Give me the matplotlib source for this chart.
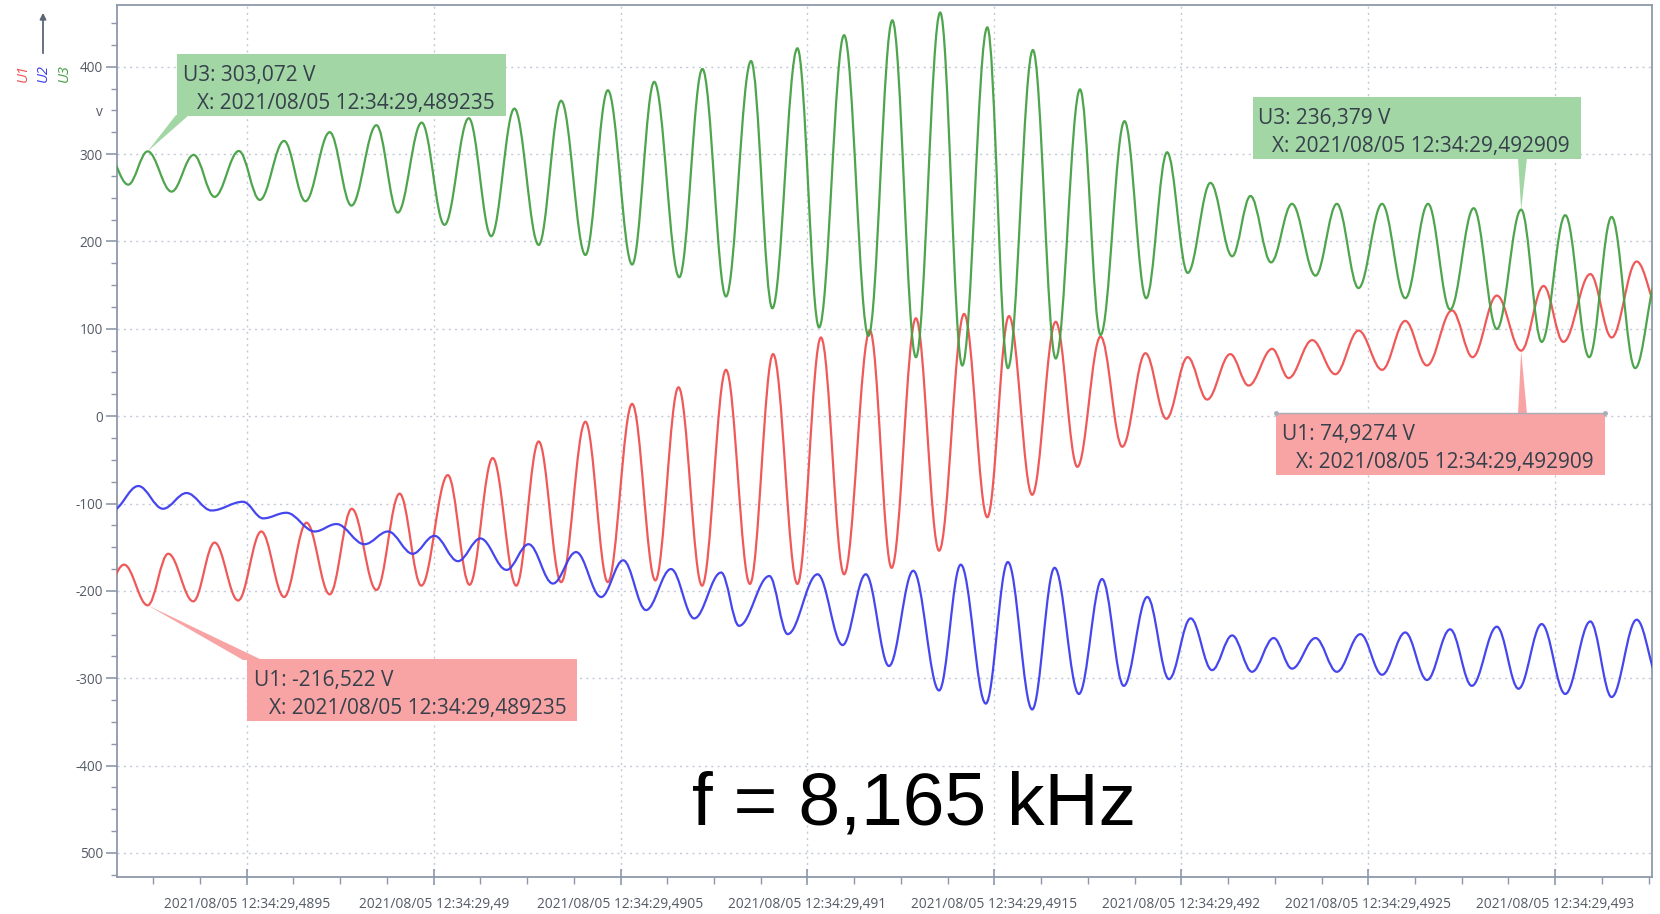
import numpy as np
import matplotlib
matplotlib.use("Agg")
import matplotlib.pyplot as plt
from matplotlib.path import Path
from matplotlib.patches import PathPatch, Polygon, Rectangle, FancyArrowPatch
from matplotlib.ticker import FixedLocator, FuncFormatter, MultipleLocator
from matplotlib.transforms import Affine2D
from matplotlib.lines import Line2D

# ---------------- data (extrema) ----------------
# time = seconds within 2021/08/05 12:34:29, value = volts
u3_time = [0.489122, 0.489183, 0.489235, 0.489299, 0.489358, 0.489414, 0.489479, 0.489535,
           0.489600, 0.489657, 0.489722, 0.489780, 0.489847, 0.489904, 0.489968, 0.490029,
           0.490094, 0.490154, 0.490216, 0.490281, 0.490341, 0.490406, 0.490466, 0.490531,
           0.490590, 0.490657, 0.490719, 0.490782, 0.490849, 0.490906, 0.490973, 0.491031,
           0.491098, 0.491163, 0.491227, 0.491290, 0.491355, 0.491414, 0.491481, 0.491536,
           0.491603, 0.491664, 0.491729, 0.491784, 0.491848, 0.491906, 0.491962, 0.492017,
           0.492078, 0.492136, 0.492185, 0.492240, 0.492296, 0.492359, 0.492416, 0.492474,
           0.492537, 0.492599, 0.492660, 0.492719, 0.492782, 0.492844, 0.492909, 0.492964,
           0.493027, 0.493091, 0.493151, 0.493214, 0.493275]
u3_volt = [306, 265, 303.072, 257, 299, 251, 303.5, 247.5,
           315, 246, 325, 241, 333, 233, 336, 219,
           341, 206, 352, 196, 361, 184.5, 373, 173.6,
           382.6, 159, 397.4, 137, 406.4, 123.5, 421, 101.6,
           436, 92, 453, 67.5, 462, 58, 445, 55,
           419, 66, 374, 93, 337.6, 135, 302, 164,
           267, 183, 252, 176, 243, 160.8, 243, 146.6,
           243, 135, 243, 122, 238, 99.7, 236.379, 85,
           230, 67.5, 228, 55, 160]

u1_time = [0.489110, 0.489172, 0.489235, 0.489290, 0.489357, 0.489414, 0.489477, 0.489539,
           0.489600, 0.489660, 0.489722, 0.489781, 0.489847, 0.489909, 0.489967, 0.490038,
           0.490096, 0.490158, 0.490221, 0.490281, 0.490341, 0.490406, 0.490466, 0.490531,
           0.490593, 0.490655, 0.490718, 0.490782, 0.490846, 0.490908, 0.490973, 0.491036,
           0.491098, 0.491167, 0.491225, 0.491290, 0.491352, 0.491419, 0.491481, 0.491539,
           0.491601, 0.491664, 0.491722, 0.491784, 0.491842, 0.491904, 0.491960, 0.492017,
           0.492069, 0.492131, 0.492180, 0.492243, 0.492287, 0.492350, 0.492412, 0.492474,
           0.492537, 0.492599, 0.492657, 0.492724, 0.492779, 0.492844, 0.492909, 0.492969,
           0.493022, 0.493094, 0.493151, 0.493218, 0.493280]
u1_volt = [-212, -170, -216.522, -157.5, -212, -144.7, -211, -132,
           -207, -122, -204, -106, -199, -88.7, -194, -67.5,
           -193, -48, -194, -29, -190, -6.4, -190, 14,
           -188, 33, -194, 53, -192, 71, -192, 90,
           -181, 98, -173.6, 112, -154, 117, -115.7, 114.5,
           -90, 108, -58, 91, -35, 72, -3, 67.5,
           19, 71, 35, 77, 43.6, 87, 48, 98,
           53, 109, 58, 121, 67.5, 138, 74.9274, 149,
           85, 162.6, 90, 177, 120]

u2_time = [0.489140, 0.489210, 0.489276, 0.489339, 0.489406, 0.489490, 0.489544, 0.489606,
           0.489682, 0.489740, 0.489815, 0.489878, 0.489944, 0.490002, 0.490065, 0.490125,
           0.490195, 0.490254, 0.490319, 0.490381, 0.490448, 0.490507, 0.490568, 0.490635,
           0.490697, 0.490769, 0.490817, 0.490898, 0.490947, 0.491027, 0.491094, 0.491156,
           0.491218, 0.491283, 0.491352, 0.491410, 0.491477, 0.491536, 0.491601, 0.491661,
           0.491726, 0.491788, 0.491846, 0.491909, 0.491967, 0.492025, 0.492082, 0.492136,
           0.492189, 0.492247, 0.492296, 0.492359, 0.492416, 0.492479, 0.492537, 0.492599,
           0.492657, 0.492719, 0.492777, 0.492844, 0.492902, 0.492964, 0.493027, 0.493094,
           0.493151, 0.493218, 0.493280]
u2_volt = [-108, -80, -106, -88, -108, -98, -117, -110.6,
           -132, -123.5, -146.6, -132, -157.5, -137, -166, -140,
           -176, -146.6, -191.6, -155.6, -207, -165, -222, -175,
           -231.5, -179, -240, -183, -249.5, -181, -262, -181,
           -286, -177, -314, -170, -329, -167, -335.7, -173.6,
           -318, -186.5, -308.7, -207, -301, -231.5, -290.7, -251,
           -292.6, -254, -289, -254, -292.6, -249.5, -296, -247.6,
           -302, -244, -308.7, -241, -312, -238, -318, -235,
           -321.5, -233, -303]

series_names = ["U1", "U2", "U3"]
series_colors = ["#ef5050", "#3c3cee", "#44a044"]

x_ticks = [0.4895, 0.4900, 0.4905, 0.4910, 0.4915, 0.4920, 0.4925, 0.4930]
date_prefix = "2021/08/05 12:34:29,"
y_ticks = [400, 300, 200, 100, 0, -100, -200, -300, -400, -500]
y_tick_labels = ["400", "300", "200", "100", "0", "-100", "-200", "-300", "-400", "500"]
unit_label = "v"

cursor_a = 0.489235
cursor_b = 0.492909
u3_at_a, u3_at_b = 303.072, 236.379
u1_at_a, u1_at_b = -216.522, 74.9274
cursor_a_text = "2021/08/05 12:34:29,489235"
cursor_b_text = "2021/08/05 12:34:29,492909"
freq_text = "f = 8,165 kHz"

# ---------------- figure ----------------
W, H = 1660, 914
fig = plt.figure(figsize=(W / 100, H / 100), dpi=100)
fig.patch.set_facecolor("white")
ax = fig.add_axes([117 / W, 1 - 877 / H, (1652 - 117) / W, (877 - 5) / H])
ax.set_xlim(0.489153, 0.493259)
ax.set_ylim(-527.5, 470.6)

K = 0.3634


def wave_path(ts, vs):
    verts = [(ts[0], vs[0])]
    codes = [Path.MOVETO]
    for i in range(len(ts) - 1):
        t0, v0, t1, v1 = ts[i], vs[i], ts[i + 1], vs[i + 1]
        dt = t1 - t0
        verts += [(t0 + K * dt, v0), (t1 - K * dt, v1), (t1, v1)]
        codes += [Path.CURVE4, Path.CURVE4, Path.CURVE4]
    return Path(verts, codes)


for ts, vs, col in [(u1_time, u1_volt, series_colors[0]),
                    (u2_time, u2_volt, series_colors[1]),
                    (u3_time, u3_volt, series_colors[2])]:
    ax.add_patch(PathPatch(wave_path(ts, vs), facecolor="none", edgecolor=col,
                           lw=1.6, zorder=3, alpha=0.95))

# axes styling
spine_col = "#8e98aa"
for s in ax.spines.values():
    s.set_color(spine_col)
    s.set_linewidth(1.3)

ax.xaxis.set_major_locator(FixedLocator(x_ticks))
ax.xaxis.set_minor_locator(MultipleLocator(0.000125))


def fmt_x(x, pos):
    s = f"{x:.4f}".rstrip("0")
    return date_prefix + s.split(".")[1]


ax.xaxis.set_major_formatter(FuncFormatter(fmt_x))
ax.yaxis.set_major_locator(FixedLocator(y_ticks))
ax.yaxis.set_major_formatter(FuncFormatter(
    lambda v, p: y_tick_labels[y_ticks.index(int(round(v)))] if int(round(v)) in y_ticks else ""))
ax.yaxis.set_minor_locator(MultipleLocator(25))
ax.yaxis.set_minor_formatter(FuncFormatter(lambda v, p: unit_label if abs(v - 350) < 1e-6 else ""))

lab_col = "#545a66"
ax.tick_params(axis="x", which="major", direction="inout", length=12, width=1.2,
               color=spine_col, labelsize=9.9, labelcolor=lab_col, pad=8.5)
ax.tick_params(axis="x", which="minor", direction="out", length=5, width=1.0, color=spine_col)
ax.tick_params(axis="y", which="major", direction="out", length=8, width=1.2,
               color=spine_col, labelsize=9.8, labelcolor=lab_col, pad=2)
ax.tick_params(axis="y", which="minor", direction="out", length=4, width=1.0,
               color=spine_col, labelsize=9.8, labelcolor=lab_col, pad=6)
for lbl in ax.get_xticklabels() + ax.get_yticklabels() + ax.get_yticklabels(minor=True):
    lbl.set_fontfamily("Open Sans")

ax.grid(True, which="major", color="#c3cad8", linestyle=(0, (1.5, 3)), linewidth=1.0)
ax.set_axisbelow(True)

# ---------------- callouts (pixel coordinates, origin top-left) ----------------
T = Affine2D().scale(1, -1).translate(0, H)
fig.canvas.draw()
inv = T.inverted()


def tip(t, v):
    d = ax.transData.transform((t, v))
    return tuple(inv.transform(d))


txt_col = "#36404b"
green_box = "#a3d6a5"
red_box = "#f8a4a4"
box_fs = 15


def put_text(x, y, s):
    fig.text(0, 0, s, transform=Affine2D().translate(x, y) + T, fontsize=box_fs,
             color=txt_col, family="Open Sans", va="baseline", ha="left", zorder=6)


def box(x0, y0, x1, y1, color, base, tip_pt):
    fig.add_artist(Polygon([base[0], base[1], tip_pt], closed=True, facecolor=color,
                           edgecolor="none", transform=T, zorder=5))
    fig.add_artist(Rectangle((x0, y0), x1 - x0, y1 - y0, facecolor=color,
                             edgecolor="none", transform=T, zorder=5))


# green callout A
box(177, 54, 506, 116, green_box, [(176, 115), (189, 115)], tip(cursor_a, u3_at_a))
put_text(183, 81, f"U3: {u3_at_a:.3f} V".replace(".", ","))
put_text(197, 109, "X: " + cursor_a_text)

# green callout B
box(1253, 97, 1581, 159, green_box, [(1518, 158), (1527, 158)], tip(cursor_b, u3_at_b))
put_text(1258, 124, f"U3: {u3_at_b:.3f} V".replace(".", ","))
put_text(1272, 152, "X: " + cursor_b_text)

# red callout A
box(247, 659, 577, 721, red_box, [(243, 660), (262, 660)], tip(cursor_a, u1_at_a))
put_text(254, 686, f"U1: {u1_at_a:.3f} V".replace(".", ","))
put_text(269, 714, "X: " + cursor_a_text)

# red callout B
box(1276, 413, 1605, 475, red_box, [(1518, 414), (1527, 414)], tip(cursor_b, u1_at_b))
fig.add_artist(Line2D([1276, 1605], [413, 413], color="#a8aeb8", lw=1.0,
                      marker="o", markersize=2.5, markevery=[0, 1], transform=T, zorder=6))
put_text(1282, 440, f"U1: {u1_at_b:.4f} V".replace(".", ","))
put_text(1296, 468, "X: " + cursor_b_text)

# series labels at top-left with arrow
for name, col, xp in zip(series_names, series_colors, [23, 43, 64]):
    fig.text(0, 0, name, transform=Affine2D().translate(xp, 73) + T, rotation=90,
             ha="center", va="center", fontsize=10.5, color=col, style="italic",
             family="Open Sans")
fig.add_artist(FancyArrowPatch((43, 56), (43, 10), arrowstyle="-|>", mutation_scale=9,
                               color="#5d6575", lw=1.3, transform=T))

# frequency annotation
fig.text(914 / W, 1 - 824 / H, freq_text, ha="center", va="baseline", fontsize=54,
         family="Liberation Sans", color="black")

fig.savefig("out.png", dpi=100)
